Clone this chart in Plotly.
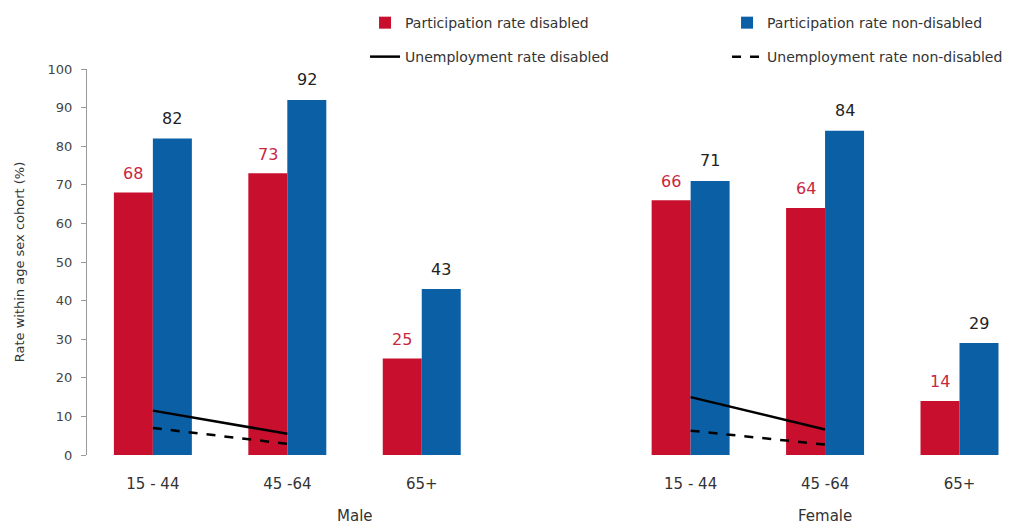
import plotly.graph_objects as go

# Age bands, repeated for each sex
age_bands = ["15 - 44", "45 -64", "65+"]
sexes = ["Male", "Female"]
positions = [0, 1, 2, 4, 5, 6]
tick_labels = age_bands + age_bands

# Labour force participation rates (%)
part_disabled = [68, 73, 25, 66, 64, 14]
part_nondisabled = [82, 92, 43, 71, 84, 29]

# Unemployment rates (%), only for the working-age bands
unemp_disabled = [11.5, 5.5, None, 15, 6.6, None]
unemp_nondisabled = [7, 2.9, None, 6.3, 2.7, None]

RED = "#c8102e"
BLUE = "#0b5fa5"
FONT = "DejaVu Sans, Verdana, sans-serif"
BAR_W = 0.29

fig = go.Figure()

fig.add_trace(go.Bar(
    x=positions, y=part_disabled, width=BAR_W, offset=-BAR_W,
    marker=dict(color=RED, line=dict(width=0)),
    name="Participation rate disabled", legend="legend", showlegend=True,
))
fig.add_trace(go.Bar(
    x=positions, y=part_nondisabled, width=BAR_W, offset=0,
    marker=dict(color=BLUE, line=dict(width=0)),
    name="Participation rate non-disabled", legend="legend2", showlegend=True,
))
fig.add_trace(go.Scatter(
    x=positions, y=unemp_disabled, mode="lines",
    line=dict(color="black", width=2.5),
    name="Unemployment rate disabled", legend="legend3", showlegend=True,
))
fig.add_trace(go.Scatter(
    x=positions, y=unemp_nondisabled, mode="lines",
    line=dict(color="black", width=2.5, dash="dash"),
    name="Unemployment rate non-disabled", legend="legend4", showlegend=True,
))

annotations = []
# Value labels above the bars
for x, v in zip(positions, part_disabled):
    annotations.append(dict(
        x=x - BAR_W / 2, y=v, text=str(v), showarrow=False,
        yanchor="middle", yshift=19, xref="x", yref="y",
        font=dict(family=FONT, size=16, color="#c8283f"),
    ))
for x, v in zip(positions, part_nondisabled):
    annotations.append(dict(
        x=x + BAR_W / 2, y=v, text=str(v), showarrow=False,
        yanchor="middle", yshift=20, xref="x", yref="y",
        font=dict(family=FONT, size=16, color="#222222"),
    ))
# Sex group labels under the age bands
for sx, xpos in zip(sexes, [1.5, 5]):
    annotations.append(dict(
        x=xpos, y=-0.158, xref="x", yref="paper", text=sx,
        showarrow=False, yanchor="middle",
        font=dict(family=FONT, size=15, color="#333333"),
    ))

legend_common = dict(
    orientation="v", xanchor="left", yanchor="middle",
    bgcolor="rgba(0,0,0,0)", borderwidth=0,
    font=dict(family=FONT, size=14, color="#333333"),
)

fig.update_layout(
    width=1025, height=525,
    margin=dict(l=87, r=5, t=69, b=70, autoexpand=False),
    paper_bgcolor="white", plot_bgcolor="white",
    barmode="overlay",
    showlegend=True,
    font=dict(family=FONT, size=13, color="#333333"),
    annotations=annotations,
    legend=dict(x=0.298, y=1.119, **legend_common),
    legend2=dict(x=0.686, y=1.119, **legend_common),
    legend3=dict(x=0.298, y=1.031, **legend_common),
    legend4=dict(x=0.686, y=1.031, **legend_common),
    xaxis=dict(
        range=[-0.49, 6.45],
        tickmode="array", tickvals=positions, ticktext=tick_labels,
        showgrid=False, zeroline=False, showline=False,
        ticks="", ticklabelstandoff=18,
        tickfont=dict(family=FONT, size=15, color="#333333"),
    ),
    yaxis=dict(
        range=[0, 100], dtick=10,
        showgrid=False, zeroline=False,
        showline=True, linecolor="#999999", linewidth=1,
        ticks="outside", ticklen=5, tickcolor="#999999",
        ticklabelstandoff=6,
        tickfont=dict(family=FONT, size=13, color="#444444"),
        title=dict(text="Rate within age sex cohort (%)", standoff=20,
                   font=dict(family=FONT, size=13, color="#333333")),
    ),
)

fig.write_html("out.html")
